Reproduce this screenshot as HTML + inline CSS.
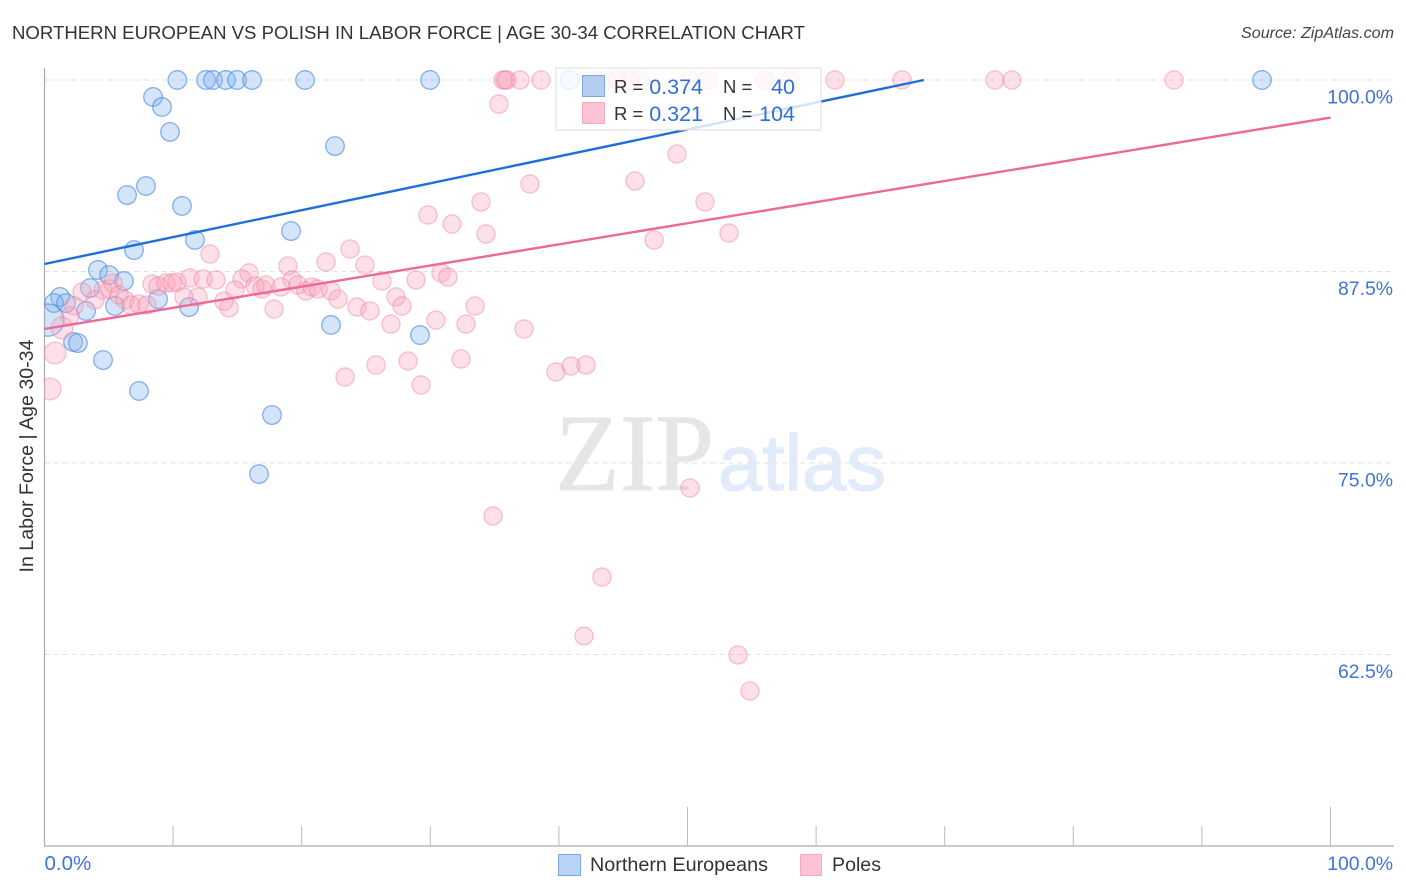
<!DOCTYPE html>
<html lang="en">
<head>
<meta charset="utf-8">
<title>Northern European vs Polish in Labor Force | Age 30-34 Correlation Chart</title>
<style>
html,body{margin:0;padding:0;background:#fff;}
svg{display:block;font-family:"Liberation Sans",sans-serif;}
</style>
</head>
<body>
<svg id="chart" xmlns="http://www.w3.org/2000/svg" width="1406" height="892" viewBox="0 0 1406 892">
  <defs><clipPath id="plot-clip"><rect x="44.5" y="60" width="1350" height="786"/></clipPath></defs>
  <rect x="0" y="0" width="1406" height="892" fill="#ffffff"/>
  <text x="12" y="39" font-size="18.5" fill="#333333" textLength="793" lengthAdjust="spacingAndGlyphs">NORTHERN EUROPEAN VS POLISH IN LABOR FORCE | AGE 30-34 CORRELATION CHART</text>
  <text x="1394" y="38" font-size="15.5" font-style="italic" fill="#444444" text-anchor="end" textLength="153" lengthAdjust="spacingAndGlyphs">Source: ZipAtlas.com</text>
  <g>
    <text x="555" y="490" font-family="'Liberation Serif',serif" font-size="110" fill="#e6e6e6" stroke="#e6e6e6" stroke-width="0.8" textLength="159" lengthAdjust="spacingAndGlyphs">ZIP</text>
    <text x="718" y="490" font-size="79" fill="#e1ebf9" stroke="#e1ebf9" stroke-width="1.2" textLength="168" lengthAdjust="spacingAndGlyphs">atlas</text>
  </g>
  <g id="grid"></g>
  <g id="axes"></g>
  <g id="blue-points" clip-path="url(#plot-clip)"></g>
  <g id="pink-points" clip-path="url(#plot-clip)"></g>
  <g id="trends"></g>
  <g>
    <rect x="556" y="68" width="265" height="62" fill="#ffffff" fill-opacity="0.8" stroke="#dddddd" stroke-width="1"/>
    <rect x="582.5" y="75.5" width="22" height="21" fill="#b3cdf3" stroke="#7ea8e2"/>
    <rect x="582.5" y="102.5" width="22" height="21" fill="#fdc3d5" stroke="#f3a9c0"/>
    <g font-size="18.5" fill="#333333">
      <text x="614" y="93">R =</text>
      <text x="723" y="93">N =</text>
      <text x="614" y="120">R =</text>
      <text x="723" y="120">N =</text>
    </g>
    <g font-size="21.5" fill="#2f6fd6" text-anchor="end">
      <text x="703" y="94">0.374</text>
      <text x="795" y="94">40</text>
      <text x="703" y="121">0.321</text>
      <text x="795" y="121">104</text>
    </g>
  </g>
  <g>
    <rect x="558.5" y="854.5" width="22" height="21" fill="#b8d4f8" stroke="#7ea8e2"/>
    <text x="590" y="871" font-size="19.5" fill="#333333" textLength="178" lengthAdjust="spacingAndGlyphs">Northern Europeans</text>
    <rect x="800.5" y="854.5" width="21" height="21" fill="#fdc3d5" stroke="#f3a9c0"/>
    <text x="832" y="871" font-size="19.5" fill="#333333" textLength="49" lengthAdjust="spacingAndGlyphs">Poles</text>
  </g>
  <text transform="translate(33,456) rotate(-90)" font-size="19" fill="#333333" text-anchor="middle" textLength="233" lengthAdjust="spacingAndGlyphs">In Labor Force | Age 30-34</text>
</svg>
<script>
const yTickValues = [100, 87.5, 75, 62.5];
const yTickLabels = ["100.0%", "87.5%", "75.0%", "62.5%"];
const xTickValues = [0, 10, 20, 30, 40, 50, 60, 70, 80, 90, 100];
const xEndValues = [0, 100];
const xEndLabels = ["0.0%", "100.0%"];

const blueX = [10.33,12.56,13.10,14.11,14.97,16.14,20.26,29.98,40.86,94.67,8.44,9.14,9.76,22.59,7.89,6.42,10.69,19.17,11.70,6.96,4.16,5.02,6.18,3.54,1.21,0.74,1.67,5.48,3.23,8.83,11.24,22.28,29.20,2.22,2.60,4.55,7.35,17.69,16.68,0.27];
const blueY = [100,100,100,100,100,100,100,100,100,100,98.89,98.24,96.61,95.69,93.08,92.49,91.78,90.14,89.56,88.90,87.60,87.27,86.88,86.42,85.84,85.44,85.44,85.25,84.92,85.70,85.18,84.01,83.35,82.90,82.83,81.72,79.70,78.13,74.28,84.33];
const blueWeight = [1,1,1,1,1,1,1,1,1,1,1,1,1,1,1,1,1,1,1,1,1,1,1,1,1,1,1,1,1,1,1,1,1,1,1,1,1,1,1,3];

const pinkX = [35.65,35.81,35.96,36.98,38.61,42.65,43.74,44.60,45.53,46.31,50.20,51.60,56.03,57.97,61.47,66.68,73.91,75.23,87.83,
35.34,49.18,45.92,37.75,33.94,51.36,29.82,31.69,34.33,53.23,47.40,23.76,12.87,21.89,24.92,18.93,15.90,15.36,30.83,31.37,26.24,28.89,19.25,27.33,
8.36,8.83,9.45,9.91,10.30,11.31,12.33,13.34,14.81,16.37,16.91,17.22,18.39,19.71,20.33,20.80,21.27,22.28,22.82,24.30,25.31,26.94,27.80,30.44,32.78,33.48,37.29,14.35,17.85,11.94,10.85,13.96,
2.92,4.55,5.09,5.33,5.79,6.26,6.73,7.35,7.97,3.93,2.29,1.98,1.36,0.82,0.43,
32.39,28.27,25.78,23.37,29.28,39.77,40.94,42.11,50.20,34.88,43.35,41.95,53.93,54.86];
const pinkY = [100,100,100,100,100,100,100,100,100,100,100,100,100,100,100,100,100,100,100,
98.43,95.17,93.41,93.21,92.04,92.04,91.19,90.60,89.95,90.01,89.56,88.97,88.64,88.12,87.92,87.86,87.41,87.01,87.41,87.14,86.88,86.95,86.95,85.84,
86.68,86.55,86.75,86.75,86.81,87.08,87.01,86.95,86.29,86.55,86.36,86.62,86.49,86.62,86.23,86.49,86.36,86.23,85.70,85.18,84.92,84.07,85.25,84.33,84.07,85.25,83.75,85.12,85.05,85.84,85.84,85.57,
86.16,86.29,86.36,86.75,85.97,85.64,85.31,85.38,85.31,85.64,85.25,84.60,83.81,82.18,79.83,
81.79,81.66,81.40,80.61,80.09,80.94,81.33,81.40,73.37,71.54,67.56,63.71,62.47,60.12];
const pinkBigIndexes = [87, 88, 89];

const blueTrendX = [0, 68.39];
const blueTrendY = [87.99, 100];
const pinkTrendX = [0, 100];
const pinkTrendY = [83.75, 97.55];

const NS = 'http://www.w3.org/2000/svg';
const xScale = function (v) { return 44.5 + v * 12.86; };
const yScale = function (v) { return 80 + (100 - v) * 15.32; };
function make(tag, parent, attrs) {
  const el = document.createElementNS(NS, tag);
  for (const k in attrs) el.setAttribute(k, attrs[k]);
  parent.appendChild(el);
  return el;
}

const grid = document.getElementById('grid');
const axes = document.getElementById('axes');
yTickValues.forEach(function (v, i) {
  const line = make('line', grid, { x1: 44.5, x2: 1394, y1: yScale(v), y2: yScale(v), stroke: '#e0e0e0', 'stroke-width': 1, 'stroke-dasharray': '5 4' });
  
  
  const label = make('text', axes, { x: 1393, y: yScale(v) + 23.5, 'font-size': 19.4, fill: '#3f74d8', 'text-anchor': 'end' });
  label.textContent = yTickLabels[i];
  
  
});

const yAxisLine = make('line', axes, { x1: 44.5, x2: 44.5, y1: 68, y2: 846, stroke: '#aaaaaa', 'stroke-width': 1.2 });


const xAxisLine = make('line', axes, { x1: 44, x2: 1394, y1: 846, y2: 846, stroke: '#aaaaaa', 'stroke-width': 1.2 });



xTickValues.forEach(function (v) {
  if (v === 0) return;
  const top = (v === 50 || v === 100) ? 807 : 826;
  const tick = make('line', axes, { x1: xScale(v), x2: xScale(v), y1: top, y2: 846, stroke: '#bbbbbb', 'stroke-width': 1 });
  
  
});
xEndValues.forEach(function (v, i) {
  const label = make('text', axes, { x: i === 0 ? xScale(v) : 1393, y: 870, 'font-size': i === 0 ? 20.5 : 19.4, fill: '#3f74d8', 'text-anchor': i === 0 ? 'start' : 'end' });
  label.textContent = xEndLabels[i];
  
  
});

const bluePoints = document.getElementById('blue-points');
blueX.forEach(function (v, i) {
  const r = 9.3 * Math.sqrt(blueWeight[i]);
  const dot = make('circle', bluePoints, { cx: xScale(v), cy: yScale(blueY[i]), r: r, fill: '#7fb0ee', 'fill-opacity': 0.33, stroke: '#4a8ae0', 'stroke-opacity': 0.65, 'stroke-width': 1.3 });
  
  
});

const pinkPoints = document.getElementById('pink-points');
pinkX.forEach(function (v, i) {
  const r = pinkBigIndexes.indexOf(i) >= 0 ? 10.9 : 9.1;
  const dot = make('circle', pinkPoints, { cx: xScale(v), cy: yScale(pinkY[i]), r: r, fill: '#f9a3bd', 'fill-opacity': 0.34, stroke: '#ea7f9f', 'stroke-opacity': 0.45, 'stroke-width': 1.3 });
  
  
});

const trends = document.getElementById('trends');
const blueTrend = make('line', trends, { x1: xScale(blueTrendX[0]), y1: yScale(blueTrendY[0]), x2: xScale(blueTrendX[1]), y2: yScale(blueTrendY[1]), stroke: '#1f6fd6', 'stroke-width': 2.4 });


const pinkTrend = make('line', trends, { x1: xScale(pinkTrendX[0]), y1: yScale(pinkTrendY[0]), x2: xScale(pinkTrendX[1]), y2: yScale(pinkTrendY[1]), stroke: '#ec6a96', 'stroke-width': 2.4 });


</script>
</body>
</html>
